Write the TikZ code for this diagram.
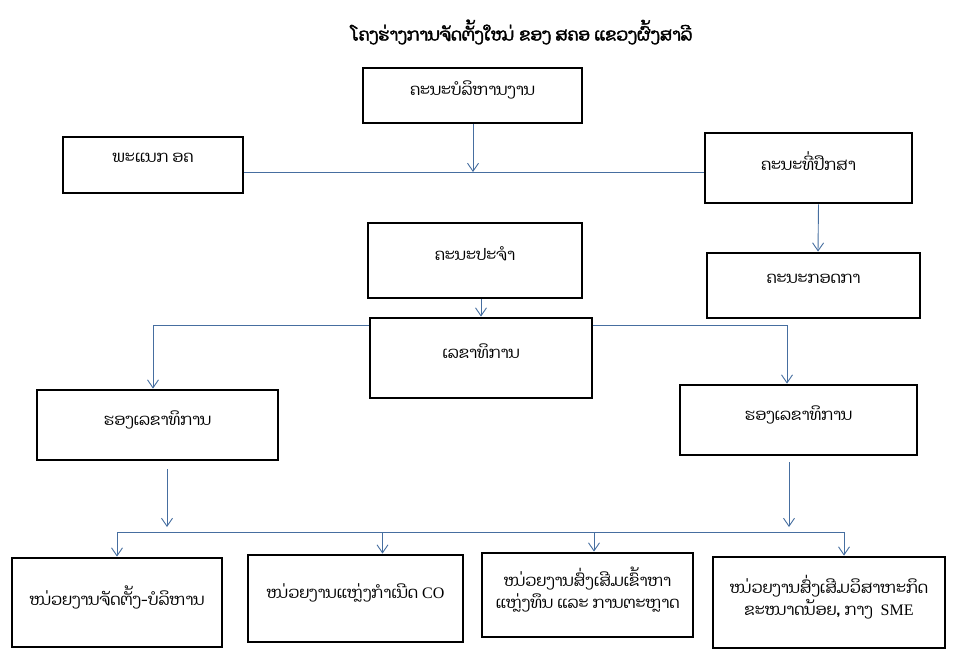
\documentclass[tikz,border=0pt]{standalone}
\usepackage{fontspec}
\newfontfamily\lao[Script=Lao]{Dhyana}
\newfontfamily\laobold[Script=Lao,FakeBold=2.5]{Dhyana}
\newfontfamily\lat{Liberation Serif}
\usetikzlibrary{arrows.meta,calc}
\definecolor{conn}{RGB}{70,110,160}
\tikzset{
  box/.style={draw=black,line width=2.8pt,fill=white,minimum width=#1,
    inner sep=2pt,font=\lao\fontsize{16}{22}\selectfont,align=center,text depth=14pt},
  bh/.style={minimum height=#1},
  link/.style={draw=conn,line width=0.9pt},
  arr/.style={link,-{Straight Barb[length=8pt,width=11pt,line width=0.9pt]}}
}
\begin{document}
\begin{tikzpicture}[x=1pt,y=-1pt]
\useasboundingbox (0,0) rectangle (954,656);
\node[font=\laobold\fontsize{17}{20}\selectfont] (title) at (522,32) {ໂຄງຮ່າງການຈັດຕັ້ງໃໝ່ ຂອງ ສຄອ ແຂວງຜົ້ງສາລີ};
% connectors behind boxes
\coordinate (hl) at (473,172);
\coordinate (sl) at (153,325);
\coordinate (sr) at (787,325);
\coordinate (bl) at (117,532);
\coordinate (br) at (844,532);
\node[box=219pt,bh=55pt] (board) at (472.5,95.5) {ຄະນະບໍລິຫານງານ};
\node[box=180pt,bh=56pt] (dept) at (153,165) {ພະແນກ ອຄ};
\node[box=207pt,bh=70pt] (adv) at (808.5,168) {ຄະນະທີ່ປຶກສາ};
\node[box=213pt,bh=65pt] (insp) at (813.5,285.5) {ຄະນະກອດກາ};
\node[box=214pt,bh=75pt] (stand) at (475,260.5) {ຄະນະປະຈຳ};
\draw[link] (dept.east |- hl) -- (adv.west |- hl);
\draw[arr] (board.south -| hl) -- (hl);
\draw[arr] ($(adv.south)+(10,0)$) -- ($(insp.north)+(4.5,0)$);
\draw[link] (sl) -- (sr);
\node[box=222pt,bh=80pt] (sec) at (481,358) {ເລຂາທິການ};
\draw[arr] (stand.south -| sec) -- (sec.north);
\node[box=241pt,bh=70pt] (depl) at (157.5,425) {ຮອງເລຂາທິການ};
\node[box=237pt,bh=70pt] (depr) at (798.5,420) {ຮອງເລຂາທິການ};
\draw[arr] (sl) -- (depl.north -| sl);
\draw[arr] (sr) -- (depr.north -| sr);
\node[box=210pt,bh=89pt] (u1) at (117,602.5) {ໜ່ວຍງານຈັດຕັ້ງ-ບໍລິຫານ};
\node[box=215pt,bh=87pt] (u2) at (355.5,598.5) {ໜ່ວຍງານແຫຼ່ງກຳເນີດ {\lat CO}};
\node[box=211pt,bh=84pt] (u3) at (587.5,595) {ໜ່ວຍງານສົ່ງເສີມເຂົ້າຫາ\\ແຫຼ່ງທຶນ ແລະ ການຕະຫຼາດ};
\node[box=232pt,bh=91pt] (u4) at (829,602.5) {ໜ່ວຍງານສົ່ງເສີມວິສາຫະກິດ\\ຂະໜາດນ້ອຍ, ກາງ\ \ {\lat SME}};
\coordinate (dla) at (167,469);
\coordinate (dlb) at (167,527);
\coordinate (dra) at (789,462);
\coordinate (drb) at (789,527);
\draw[arr] (dla) -- (dlb);
\draw[arr] (dra) -- (drb);
\draw[link] (bl) -- (br);
\draw[arr] (bl) -- (u1.north -| bl);
\draw[arr] (382.5,532) coordinate (b2) -- (u2.north -| b2);
\draw[arr] (594,532) coordinate (b3) -- (u3.north -| b3);
\draw[arr] (br) -- (u4.north -| br);
\end{tikzpicture}
\end{document}
